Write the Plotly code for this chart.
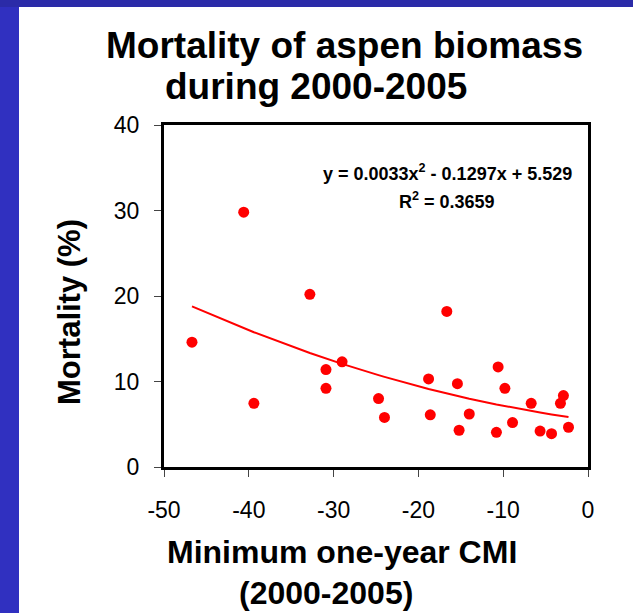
import plotly.graph_objects as go

# ---- data ----
cmi = [-46.7, -40.6, -39.4, -32.8, -30.9, -30.9, -29.0, -24.7, -24.0, -18.8,
       -18.6, -16.65, -15.4, -15.2, -14.0, -10.8, -10.6, -9.8, -8.9, -6.7,
       -5.65, -4.3, -3.25, -2.9, -2.3]
mortality = [14.6, 29.8, 7.45, 20.2, 11.4, 9.2, 12.3, 8.0, 5.8, 10.3,
             6.1, 18.2, 9.75, 4.3, 6.2, 4.05, 11.7, 9.2, 5.2, 7.45,
             4.2, 3.9, 7.45, 8.35, 4.65]
# polynomial trendline coefficients as printed on the chart
trend_a, trend_b, trend_c = 0.0033, -0.1297, 5.529
x_ticks = [-50, -40, -30, -20, -10, 0]
x_tick_labels = ["-50", "-40", "-30", "-20", "-10", "0"]
y_ticks = [0, 10, 20, 30, 40]
y_tick_labels = ["0", "10", "20", "30", "40"]

title_lines = ["Mortality of aspen biomass", "during 2000-2005"]
x_title_lines = ["Minimum one-year CMI", "(2000-2005)"]
y_title = "Mortality (%)"
eq_text = "y = 0.0033x<sup>2</sup> - 0.1297x + 5.529"
r2_text = "R<sup>2</sup> = 0.3659"

# ---- geometry ----
W, H = 633, 613
L, R, T, B = 164, 588, 125, 467  # plot area in pixels
pw, ph = R - L, B - T


def px(x):
    return (x - L) / pw


def py(y):
    return (B - y) / ph


FONT = "Liberation Sans, Arial, sans-serif"

trend_x = sorted(cmi)
trend_y = [trend_a * v * v + trend_b * v + trend_c for v in trend_x]

fig = go.Figure()
fig.add_trace(go.Scatter(x=trend_x, y=trend_y, mode="lines",
                         line=dict(color="#ff0000", width=2),
                         hoverinfo="skip", showlegend=False))
fig.add_trace(go.Scatter(x=cmi, y=mortality, mode="markers",
                         marker=dict(color="#ff0000", size=11, line=dict(width=0)),
                         showlegend=False))

axis_common = dict(showgrid=False, zeroline=False, showline=True, mirror=True,
                   linecolor="black", linewidth=3, ticks="outside", ticklen=7,
                   tickwidth=1, tickcolor="#444444",
                   tickfont=dict(family=FONT, size=23, color="black"))

fig.update_xaxes(range=[-50, 0], tickvals=x_ticks, ticktext=x_tick_labels,
                 ticklabelstandoff=13, **axis_common)
fig.update_yaxes(range=[0, 40], tickvals=y_ticks, ticktext=y_tick_labels,
                 ticklabelstandoff=10, **axis_common)

ann = []
# main title
ann.append(dict(text=title_lines[0], x=px(104), y=py(45), xanchor="left", yanchor="middle",
                font=dict(family=FONT, size=37, color="black")))
ann.append(dict(text=title_lines[1], x=px(163), y=py(86), xanchor="left", yanchor="middle",
                font=dict(family=FONT, size=37, color="black")))
# x title
ann.append(dict(text=x_title_lines[0], x=px(342), y=py(552), xanchor="center", yanchor="middle",
                font=dict(family=FONT, size=32, color="black")))
ann.append(dict(text=x_title_lines[1], x=px(326), y=py(593), xanchor="center", yanchor="middle",
                font=dict(family=FONT, size=32, color="black")))
# y title
ann.append(dict(text=y_title, x=px(69), y=py(312), xanchor="center", yanchor="middle",
                textangle=-90, font=dict(family=FONT, size=31, color="black")))
# equation
ann.append(dict(text=eq_text, x=px(447), y=py(172), xanchor="center", yanchor="middle",
                font=dict(family=FONT, size=18, color="black")))
ann.append(dict(text=r2_text, x=px(447), y=py(200), xanchor="center", yanchor="middle",
                font=dict(family=FONT, size=18, color="black")))
for a in ann:
    a.update(xref="paper", yref="paper", showarrow=False)
    a["text"] = "<b>" + a["text"] + "</b>"

shapes = [
    dict(type="rect", xref="paper", yref="paper", x0=px(-5), x1=px(W + 5), y0=py(7), y1=py(-5),
         fillcolor="#2b2ba8", line=dict(width=0), layer="below"),
    dict(type="rect", xref="paper", yref="paper", x0=px(-5), x1=px(19), y0=py(H + 5), y1=py(7),
         fillcolor="#3030c0", line=dict(width=0), layer="below"),
]

fig.update_layout(width=W, height=H, margin=dict(l=L, r=W - R, t=T, b=H - B, pad=0),
                  paper_bgcolor="white", plot_bgcolor="white",
                  annotations=ann, shapes=shapes, showlegend=False)

fig.write_html("out.html", config={"displayModeBar": False},
               post_script="document.body.style.margin='0';")
